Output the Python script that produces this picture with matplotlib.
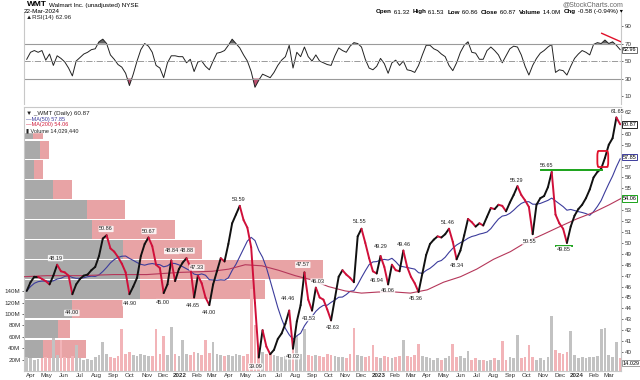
import numpy as np
import pandas as pd
import matplotlib
matplotlib.use('Agg')
import matplotlib.pyplot as plt
import matplotlib.dates as mdates
import matplotlib.transforms as mtransforms
from matplotlib.collections import LineCollection
from matplotlib.patches import FancyBboxPatch, Rectangle

plt.rcParams['font.family'] = ['Liberation Sans', 'DejaVu Sans']

# weekly samples
weeks = pd.date_range('2021-03-25', periods=157, freq='7D')
close = [45.6, 46.4, 46.9, 46.9, 46.7, 46.5, 46.2, 47.0, 48.0, 47.4,
         47.3, 47.0, 45.3, 46.2, 46.7, 47.0, 47.1, 47.5, 47.8, 48.8,
         50.4, 50.7, 49.5, 49.2, 48.7, 48.1, 47.3, 45.3, 46.0, 46.8,
         48.8, 49.9, 50.5, 49.7, 48.0, 47.7, 45.4, 46.2, 48.4, 46.5,
         47.6, 48.2, 48.6, 47.8, 45.0, 47.0, 46.3, 45.0, 44.3, 46.2,
         47.4, 48.6, 48.3, 49.9, 51.8, 52.6, 53.4, 52.1, 51.4, 49.6,
         44.5, 39.5, 42.0, 40.5, 39.8, 40.2, 41.2, 41.7, 42.6, 43.8,
         40.3, 42.8, 44.3, 47.3, 44.8, 43.8, 45.9, 45.0, 44.8, 43.9,
         42.9, 44.9, 46.9, 47.5, 47.1, 46.8, 46.4, 50.6, 51.3, 50.0,
         48.6, 47.4, 47.2, 48.8, 47.8, 46.2, 48.0, 47.5, 47.4, 49.3,
         47.8, 46.9, 46.3, 45.5, 47.2, 48.9, 49.9, 50.3, 50.6, 50.5,
         50.8, 51.3, 50.1, 48.5, 49.3, 50.7, 52.2, 51.9, 51.5, 51.8,
         51.6, 52.4, 53.2, 53.1, 53.5, 53.4, 52.9, 53.7, 54.4, 55.2,
         54.4, 53.9, 53.3, 50.8, 53.5, 54.1, 54.3, 55.1, 56.5, 52.6,
         51.8, 51.3, 50.0, 51.5, 52.5, 53.1, 53.5, 54.1, 54.9, 56.0,
         56.5, 56.8, 57.8, 59.0, 59.6, 61.5, 60.87]
volume = [24, 22, 20, 21, 23, 25, 22, 58, 28, 55,
          24, 22, 26, 45, 22, 20, 21, 19, 24, 28,
          50, 30, 24, 22, 26, 73, 30, 34, 28, 26,
          30, 28, 26, 27, 73, 30, 62, 28, 78, 30,
          26, 55, 30, 28, 34, 32, 28, 55, 32, 50,
          30, 28, 26, 28, 26, 30, 28, 26, 30, 143,
          80, 40, 34, 30, 32, 28, 26, 24, 26, 28,
          36, 61, 30, 73, 28, 26, 28, 26, 24, 30,
          28, 26, 24, 24, 22, 30, 76, 28, 26, 24,
          26, 45, 24, 22, 26, 24, 22, 24, 26, 55,
          26, 24, 28, 48, 26, 24, 22, 20, 22, 20,
          22, 26, 48, 24, 26, 22, 35, 20, 22, 20,
          20, 18, 20, 22, 20, 52, 20, 24, 22, 64,
          22, 24, 45, 24, 20, 22, 20, 24, 97, 36,
          32, 30, 34, 70, 28, 22, 24, 22, 24, 24,
          26, 74, 76, 28, 24, 50, 22]
rsi = [52, 60, 62, 60, 62, 51, 58, 45, 56, 53,
       49, 42, 33, 50, 54, 58, 60, 63, 64, 72,
       75, 70, 57, 52, 46, 43, 36, 22, 35, 50,
       63, 70, 67, 60, 45, 42, 31, 48, 56, 56,
       55, 55, 48, 52, 38, 49, 50, 44, 40, 50,
       59, 60, 62, 68, 75, 70, 65, 57, 50, 38,
       20, 28, 35, 33, 31, 37, 45, 51, 55, 68,
       42, 60, 55, 66, 55, 50, 57, 50, 48, 46,
       45, 56, 65, 62, 60, 67, 71, 70, 66, 52,
       42, 40, 44, 53, 47, 36, 48, 51, 45, 50,
       40, 39, 37, 45, 57, 68, 68, 64, 62, 58,
       55, 45, 39, 48, 60, 68, 72, 60, 59, 52,
       52, 62, 66, 62, 57, 48, 56, 64, 67, 66,
       57, 44, 34, 45, 53, 59, 62, 66, 69, 37,
       40, 39, 34, 44, 53, 58, 62, 60, 57, 69,
       71, 70, 74, 70, 72, 68, 63]

ma200_dates = ['2021-03-20', '2021-05-01', '2021-07-01', '2021-09-01', '2021-11-01',
               '2022-01-01', '2022-03-01', '2022-04-01', '2022-05-01', '2022-06-01',
               '2022-07-01', '2022-08-01', '2022-09-01', '2022-10-01', '2022-11-01',
               '2022-12-01', '2023-01-01', '2023-02-01', '2023-03-01', '2023-04-01',
               '2023-05-01', '2023-06-01', '2023-07-01', '2023-08-01', '2023-09-01',
               '2023-10-01', '2023-11-01', '2023-12-01', '2024-01-01', '2024-02-01',
               '2024-03-01', '2024-03-22']
ma200 = [46.9, 47.0, 47.0, 47.1, 47.1, 47.3, 47.4, 47.6, 48.0, 47.9,
         47.5, 47.0, 46.6, 46.0, 45.6, 45.4, 45.5, 45.5, 45.4, 45.7,
         46.4, 46.9, 47.6, 48.5, 49.2, 50.1, 50.8, 51.5, 52.2, 52.8,
         53.5, 54.06]

# volume by price (millions of shares), up part / down part
vbp_edges = [39.36, 41.19, 43.01, 44.84, 46.66, 48.49, 50.32,
             52.14, 53.97, 55.79, 57.62, 59.45, 61.27]
vbp_up = [380, 680, 960, 2320, 2320, 1980, 1360, 1260, 580, 200, 320, 180]
vbp_down = [860, 240, 1020, 2500, 3660, 1580, 1660, 760, 380, 180, 180, 200]

highs = [('2021-05-17', 48.19), ('2021-08-18', 50.86), ('2021-11-05', 50.67),
         ('2021-12-17', 48.84), ('2022-01-14', 48.88), ('2022-02-01', 47.33),
         ('2022-04-19', 53.59), ('2022-07-18', 44.46), ('2022-08-15', 47.57),
         ('2022-09-12', 46.03), ('2022-11-28', 51.55), ('2023-01-05', 49.29),
         ('2023-02-16', 49.46), ('2023-05-08', 51.46), ('2023-09-12', 55.29),
         ('2023-11-07', 56.65), ('2024-03-16', 61.65)]
lows = [('2021-06-16', 44.00), ('2021-10-01', 44.90), ('2021-12-01', 45.00),
        ('2022-01-25', 44.65), ('2022-02-23', 44.00), ('2022-05-20', 39.09),
        ('2022-07-27', 40.02), ('2022-08-26', 43.53), ('2022-10-10', 42.63),
        ('2022-12-29', 46.94), ('2023-01-18', 46.06), ('2023-03-10', 45.36),
        ('2023-05-25', 48.34), ('2023-10-06', 50.55), ('2023-12-08', 49.85)]

ma50 = pd.Series(close).rolling(10, min_periods=1).mean()

W, H = 640, 380
fig = plt.figure(figsize=(6.4, 3.8), dpi=100)


def rect(x0, y0, x1, y1):
    return [x0 / W, 1 - y1 / H, (x1 - x0) / W, (y1 - y0) / H]


main_rect = rect(24, 107, 621, 371)
ax_vbp = fig.add_axes(main_rect)
ax_vol = fig.add_axes(main_rect, facecolor='none')
ax = fig.add_axes(main_rect, facecolor='none')
ax_rsi = fig.add_axes(rect(24, 13, 621, 104))

d0 = mdates.date2num(pd.Timestamp('2022-01-01'))
xlim = (d0 - 287, d0 + 811.5)
ylim = (38.26, 62.46)
fs = 4.5

# --- volume by price
ax_vbp.set_xlim(0, 11940)
ax_vbp.set_ylim(*ylim)
edges = np.array(vbp_edges)
centers = (edges[:-1] + edges[1:]) / 2
hgt = np.diff(edges) * 0.93
ax_vbp.barh(centers, vbp_up, height=hgt, color='#a9a9a9', lw=0)
ax_vbp.barh(centers, vbp_down, left=vbp_up, height=hgt, color='#e8a3a5', lw=0)
ax_vbp.add_patch(Rectangle((0, 0.905), 0.115, 0.1, transform=ax_vbp.transAxes,
                           color='white', zorder=5))
ax_vbp.axis('off')

# --- volume
vcols = ['#c2c2c2' if i == 0 or close[i] >= close[i - 1] else '#f2b4b8'
         for i in range(len(close))]
ax_vol.bar(weeks, volume, width=5.0, color=vcols, lw=0)
ax_vol.set_xlim(*xlim)
ax_vol.set_ylim(0, 463)
ax_vol.set_yticks(range(20, 160, 20))
ax_vol.set_yticklabels([f'{v}M' for v in range(20, 160, 20)])
ax_vol.tick_params(axis='y', labelsize=fs, length=1.5, pad=1, colors='#333', width=0.5)
ax_vol.set_xticks([])
for s in ax_vol.spines.values():
    s.set_visible(False)
vt = mtransforms.blended_transform_factory(ax_vol.transAxes, ax_vol.transData)
ax_vol.text(1.003, 14.03, '14.029', transform=vt, fontsize=4, va='center', ha='left',
            bbox=dict(boxstyle='square,pad=0.1', fc='white', ec='#777', lw=0.5), zorder=6)

# --- price
xn = mdates.date2num(weeks)
pts = np.column_stack([xn, close])
segs = np.stack([pts[:-1], pts[1:]], axis=1)
cols = ['#111111' if b >= a else '#d0103a' for a, b in zip(close[:-1], close[1:])]
ax.add_collection(LineCollection(segs, colors=cols, linewidths=1.4, zorder=4,
                                 capstyle='round'))
ax.plot(weeks, ma50, color='#3c3c9c', lw=0.8, zorder=3)
ax.plot(pd.to_datetime(ma200_dates), ma200, color='#b5375a', lw=0.8, zorder=3)

box = dict(boxstyle='round,pad=0.12', fc='white', ec='none', alpha=0.85)
for d, v in highs:
    ax.annotate(f'{v:.2f}', (pd.Timestamp(d), v), xytext=(0, 1.5), textcoords='offset points',
                ha='center', va='bottom', fontsize=4, color='#222', bbox=box, zorder=6)
for d, v in lows:
    ax.annotate(f'{v:.2f}', (pd.Timestamp(d), v), xytext=(0, -1.5), textcoords='offset points',
                ha='center', va='top', fontsize=4, color='#222', bbox=box, zorder=6)

# drawn markup
ax.plot(pd.to_datetime(['2023-10-28', '2024-02-16']), [56.65, 56.65], color='#1aa31a', lw=1.4, zorder=5)
ax.plot(pd.to_datetime(['2023-11-23', '2023-12-24']), [49.72, 49.72], color='#1aa31a', lw=1.4, zorder=5)
bx0 = mdates.date2num(pd.Timestamp('2024-02-08'))
ax.add_patch(FancyBboxPatch((bx0, 56.96), 20, 1.47, boxstyle='round,pad=0,rounding_size=2',
                            fc='none', ec='#e0102a', lw=1.3, zorder=6, mutation_aspect=0.25))

ax.set_xlim(*xlim)
ax.set_ylim(*ylim)
ax.yaxis.tick_right()
ax.set_yticks([v for v in range(40, 63) if v not in (61, 58, 54)])
ax.tick_params(axis='y', labelsize=fs, length=1.5, pad=1, colors='#333', width=0.5)
months = pd.date_range('2021-04-01', '2024-03-01', freq='MS')
ax.set_xticks(months)
ax.set_xticklabels([str(m.year) if m.month == 1 else m.strftime('%b') for m in months])
for m, lab in zip(months, ax.get_xticklabels()):
    if m.month == 1:
        lab.set_fontweight('bold')
        lab.set_fontsize(5)
ax.tick_params(axis='x', labelsize=fs, length=0, pad=1.5, colors='#333')
for s in ax.spines.values():
    s.set_color('#c8c8c8')
    s.set_linewidth(0.8)

pt = mtransforms.blended_transform_factory(ax.transAxes, ax.transData)
for val, ec in [(60.87, '#222222'), (57.85, '#3c3c9c'), (54.06, '#1aa31a')]:
    ax.text(1.003, val, f'{val:.2f}', transform=pt, fontsize=4, va='center', ha='left',
            bbox=dict(boxstyle='square,pad=0.12', fc='white', ec=ec, lw=0.7), zorder=7)

# legend block
ax.text(0.003, 0.985, '\u25bc _WMT (Daily) 60.87', transform=ax.transAxes, fontsize=fs,
        va='top', color='#222', zorder=8)
ax.text(0.003, 0.963, '\u2014MA(50) 57.85', transform=ax.transAxes, fontsize=4,
        va='top', color='#3c3c9c', zorder=8)
ax.text(0.003, 0.942, '\u2014MA(200) 54.06', transform=ax.transAxes, fontsize=4,
        va='top', color='#d02040', zorder=8)
ax.text(0.003, 0.921, '\u25ae Volume 14,029,440', transform=ax.transAxes, fontsize=4,
        va='top', color='#222', zorder=8)

# --- RSI
ax_rsi.plot(weeks, rsi, color='#222', lw=0.7)
r = np.array(rsi)
ax_rsi.fill_between(weeks, r, 70, where=r > 70, interpolate=True, color='#666', lw=0)
ax_rsi.fill_between(weeks, r, 30, where=r < 30, interpolate=True, color='#c05070', lw=0)
ax_rsi.axhline(70, color='#9a9a9a', lw=0.8)
ax_rsi.axhline(30, color='#9a9a9a', lw=0.8)
ax_rsi.axhline(50, color='#9a9a9a', lw=0.7, ls='-.')
ax_rsi.plot(pd.to_datetime(['2024-02-16', '2024-03-22']), [81.7, 72.1], color='#e0102a', lw=1.0)
ax_rsi.set_xlim(*xlim)
ax_rsi.set_ylim(0.9, 104.9)
ax_rsi.yaxis.tick_right()
ax_rsi.set_yticks([10, 30, 50, 70, 90])
ax_rsi.tick_params(axis='y', labelsize=fs, length=1.5, pad=1, colors='#333', width=0.5)
ax_rsi.set_xticks([])
for k in ['top', 'bottom']:
    ax_rsi.spines[k].set_visible(False)
for k in ['left', 'right']:
    ax_rsi.spines[k].set_color('#c8c8c8')
rt = mtransforms.blended_transform_factory(ax_rsi.transAxes, ax_rsi.transData)
ax_rsi.text(1.003, 62.96, '62.96', transform=rt, fontsize=4, va='center', ha='left',
            bbox=dict(boxstyle='square,pad=0.12', fc='white', ec='#555', lw=0.6), zorder=7)
ax_rsi.text(0.003, 0.975, '\u25b2RSI(14) 62.96', transform=ax_rsi.transAxes, fontsize=fs,
            va='top', color='#222')

# --- header
renderer = fig.canvas.get_renderer()
t_sym = fig.text(27 / W, 1 - 5 / H, 'WMT', fontsize=6, fontweight='bold', va='center')
sym_w = t_sym.get_window_extent(renderer).width
fig.text((27 + sym_w + 2) / W, 1 - 5 / H, 'Walmart Inc. (unadjusted) NYSE', fontsize=fs, va='center')
fig.text(24 / W, 1 - 11.5 / H, '22-Mar-2024', fontsize=fs, va='center')
fig.text(623 / W, 1 - 5 / H, '@StockCharts.com', fontsize=5, va='center', ha='right', color='#666')

parts = [('Open', True), (' 61.32  ', False), ('High', True), (' 61.53  ', False),
         ('Low', True), (' 60.86  ', False), ('Close', True), (' 60.87  ', False),
         ('Volume', True), (' 14.0M  ', False), ('Chg', True), (' -0.58 (-0.94%) \u25be', False)]
pieces = [fig.text(0, 1 - 12 / H, txt, fontsize=fs, va='center',
                   fontweight='bold' if bold else 'normal') for txt, bold in parts]
widths = [p.get_window_extent(renderer).width for p in pieces]
xpos = 623 - sum(widths)
for p, w in zip(pieces, widths):
    p.set_x(xpos / W)
    xpos += w

fig.savefig('out.png', dpi=100, facecolor='white')
